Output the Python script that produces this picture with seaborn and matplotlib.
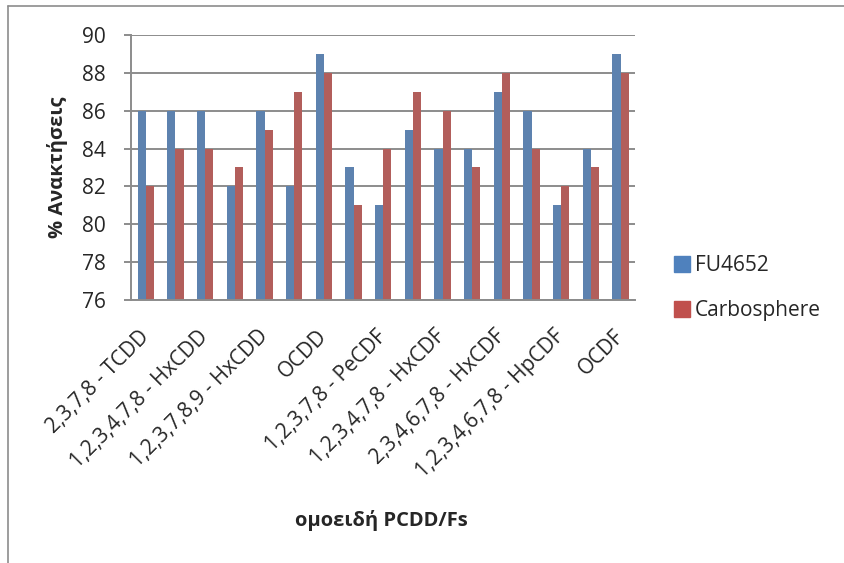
import matplotlib
matplotlib.use("Agg")
import matplotlib.pyplot as plt
import seaborn as sns
import pandas as pd
from matplotlib.lines import Line2D

congeners = [
    "2,3,7,8 - TCDD", "1,2,3,7,8 - PeCDD", "1,2,3,4,7,8 - HxCDD", "1,2,3,6,7,8 - HxCDD",
    "1,2,3,7,8,9 - HxCDD", "1,2,3,4,6,7,8 - HpCDD", "OCDD", "2,3,7,8 - TCDF",
    "1,2,3,7,8 - PeCDF", "2,3,4,7,8 - PeCDF", "1,2,3,4,7,8 - HxCDF", "1,2,3,6,7,8 - HxCDF",
    "2,3,4,6,7,8 - HxCDF", "1,2,3,7,8,9 - HxCDF", "1,2,3,4,6,7,8 - HpCDF",
    "1,2,3,4,7,8,9 - HpCDF", "OCDF",
]
fu4652 = [86, 86, 86, 82, 86, 82, 89, 83, 81, 85, 84, 84, 87, 86, 81, 84, 89]
carbosphere = [82, 84, 84, 83, 85, 87, 88, 81, 84, 87, 86, 83, 88, 84, 82, 83, 88]
series_names = ["FU4652", "Carbosphere"]
y_ticks = [76, 78, 80, 82, 84, 86, 88, 90]

df = pd.DataFrame({
    "congener": congeners * 2,
    "value": fu4652 + carbosphere,
    "series": [series_names[0]] * len(congeners) + [series_names[1]] * len(congeners),
})

sns.set_style("white")
plt.rcParams["font.family"] = ["Open Sans", "DejaVu Sans"]

fig = plt.figure(figsize=(8.45, 5.63), dpi=100)
ax = fig.add_axes([0.155, 0.467, 0.597, 0.471])

colors = ["#4F81BD", "#C0504D"]
sns.barplot(data=df, x="congener", y="value", hue="series", palette=colors,
            width=0.55, ax=ax, edgecolor="none", linewidth=0, legend=False)

ax.set_ylim(76, 90)
ax.set_yticks(y_ticks)
ax.set_yticklabels([str(t) for t in y_ticks], fontsize=15)
ax.yaxis.grid(True, color="#8C8C8C", linewidth=1.4)
ax.set_axisbelow(True)
ax.set_xlim(-0.5, len(congeners) - 0.5)

for s in ["top", "right"]:
    ax.spines[s].set_visible(False)
ax.spines["left"].set_color("#8C8C8C")
ax.spines["left"].set_linewidth(1.4)
ax.spines["bottom"].set_color("#8C8C8C")
ax.spines["bottom"].set_linewidth(1.4)
ax.tick_params(axis="y", left=True, length=5, color="#8C8C8C", width=1.4, pad=13)
ax.tick_params(axis="x", bottom=False, length=0, pad=24)

ax.set_xticks(range(len(congeners)))
labels = [c if i % 2 == 0 else "" for i, c in enumerate(congeners)]
ax.set_xticklabels(labels, rotation=45, ha="right", va="center", rotation_mode="anchor", fontsize=15)

ax.set_xlabel("")
ax.set_ylabel("% Ανακτήσεις", fontsize=14.5, fontweight="bold", labelpad=10)
fig.text(0.451, 0.075, "ομοειδή PCDD/Fs", fontsize=14.5, fontweight="bold", ha="center", va="center")

handles = [Line2D([0], [0], marker="s", color="none", markerfacecolor=c, markeredgecolor=c,
                  markersize=11) for c in colors]
fig.legend(handles, series_names, loc="upper left", bbox_to_anchor=(0.772, 0.58),
           frameon=False, fontsize=15, labelspacing=1.15, handletextpad=0.15, handlelength=1.0)

# chart frame
fig.add_artist(Line2D([8 / 845, 1], [1 - 6 / 563, 1 - 6 / 563], transform=fig.transFigure,
                      color="#8C8C8C", linewidth=1.2))
fig.add_artist(Line2D([8 / 845, 8 / 845], [0, 1 - 6 / 563], transform=fig.transFigure,
                      color="#8C8C8C", linewidth=1.2))

fig.savefig("out.png", dpi=100)
